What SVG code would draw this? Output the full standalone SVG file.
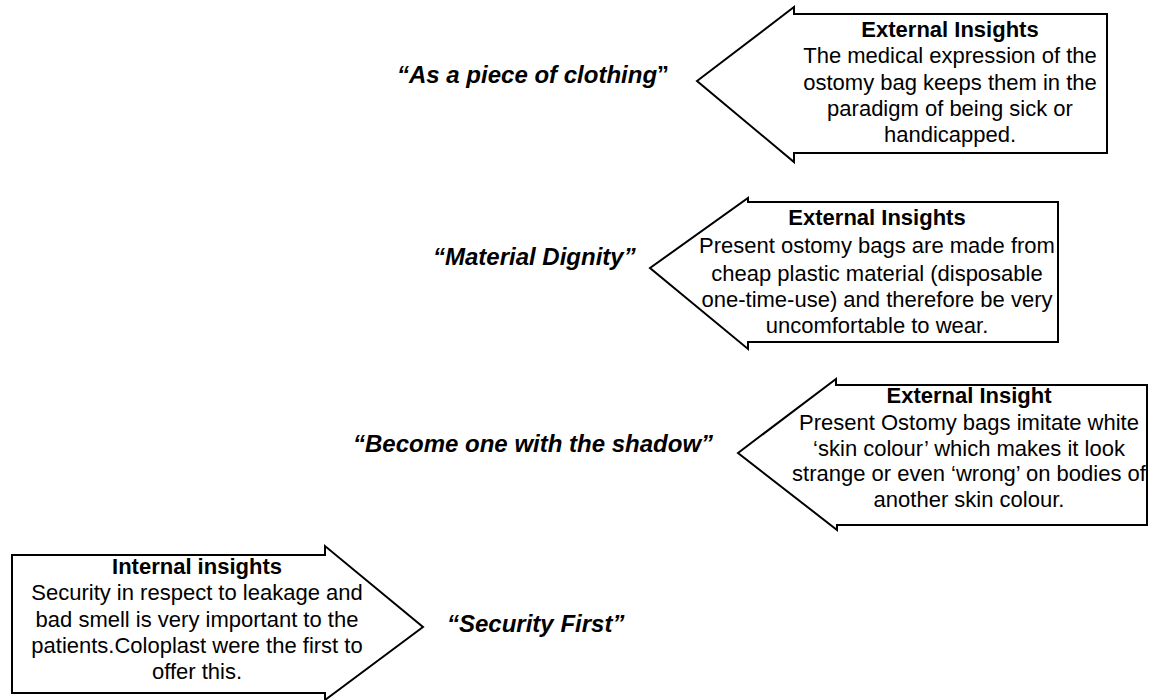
<svg xmlns="http://www.w3.org/2000/svg" width="1149" height="700" viewBox="0 0 1149 700">
  <style>
    .arrow { fill: #ffffff; stroke: #000000; stroke-width: 2; stroke-linejoin: miter; }
    .head { font-family: "Liberation Sans", Arial, sans-serif; font-size: 22px; font-weight: bold; fill: #000; text-anchor: middle; }
    .body { font-family: "Liberation Sans", Arial, sans-serif; font-size: 22px; fill: #000; text-anchor: middle; }
    .label { font-family: "Liberation Sans", Arial, sans-serif; font-size: 24px; font-weight: bold; font-style: italic; fill: #000; }
  </style>
  <rect width="1149" height="700" fill="#ffffff"/>

  <!-- quote labels -->
  <g id="label-clothing">
    <text class="label" x="397" y="83">“As a piece of clothing<tspan font-style="normal">”</tspan></text>
  </g>
  <g id="label-dignity">
    <text class="label" x="433" y="265">“Material Dignity”</text>
  </g>
  <g id="label-shadow">
    <text class="label" x="353" y="452">“Become one with the shadow”</text>
  </g>
  <g id="label-security">
    <text class="label" x="447" y="632">“Security First”</text>
  </g>

  <!-- left-pointing insight arrows -->
  <g id="insight-clothing">
    <polygon class="arrow" points="697,81 794,7 794,14 1107,14 1107,153 794,153 794,162"/>
    <text class="head" x="950" y="37">External Insights</text>
    <text class="body" x="950" y="63">The medical expression of the</text>
    <text class="body" x="950" y="90">ostomy bag keeps them in the</text>
    <text class="body" x="950" y="116">paradigm of being sick or</text>
    <text class="body" x="950" y="142">handicapped.</text>
  </g>
  <g id="insight-dignity">
    <polygon class="arrow" points="650,268 748,198 748,202 1058,202 1058,342 748,342 748,349"/>
    <text class="head" x="877" y="225">External Insights</text>
    <text class="body" x="877" y="253">Present ostomy bags are made from</text>
    <text class="body" x="877" y="281">cheap plastic material (disposable</text>
    <text class="body" x="877" y="307">one-time-use) and therefore be very</text>
    <text class="body" x="877" y="333">uncomfortable to wear.</text>
  </g>
  <g id="insight-shadow">
    <polygon class="arrow" points="738,453 836,379 836,385 1147,385 1147,525 837,525 837,530"/>
    <text class="head" x="969" y="403">External Insight</text>
    <text class="body" x="969" y="430">Present Ostomy bags imitate white</text>
    <text class="body" x="969" y="456">‘skin colour’ which makes it look</text>
    <text class="body" x="969" y="481">strange or even ‘wrong’ on bodies of</text>
    <text class="body" x="969" y="507">another skin colour.</text>
  </g>

  <!-- right-pointing insight arrow -->
  <g id="insight-security">
    <polygon class="arrow" points="12,555 325,555 325,546 423,627 325,700 325,693 12,693"/>
    <text class="head" x="197" y="574">Internal insights</text>
    <text class="body" x="197" y="600">Security in respect to leakage and</text>
    <text class="body" x="197" y="627">bad smell is very important to the</text>
    <text class="body" x="197" y="653">patients.Coloplast were the first to</text>
    <text class="body" x="197" y="679">offer this.</text>
  </g>

  <g id="connectors"/>
</svg>
